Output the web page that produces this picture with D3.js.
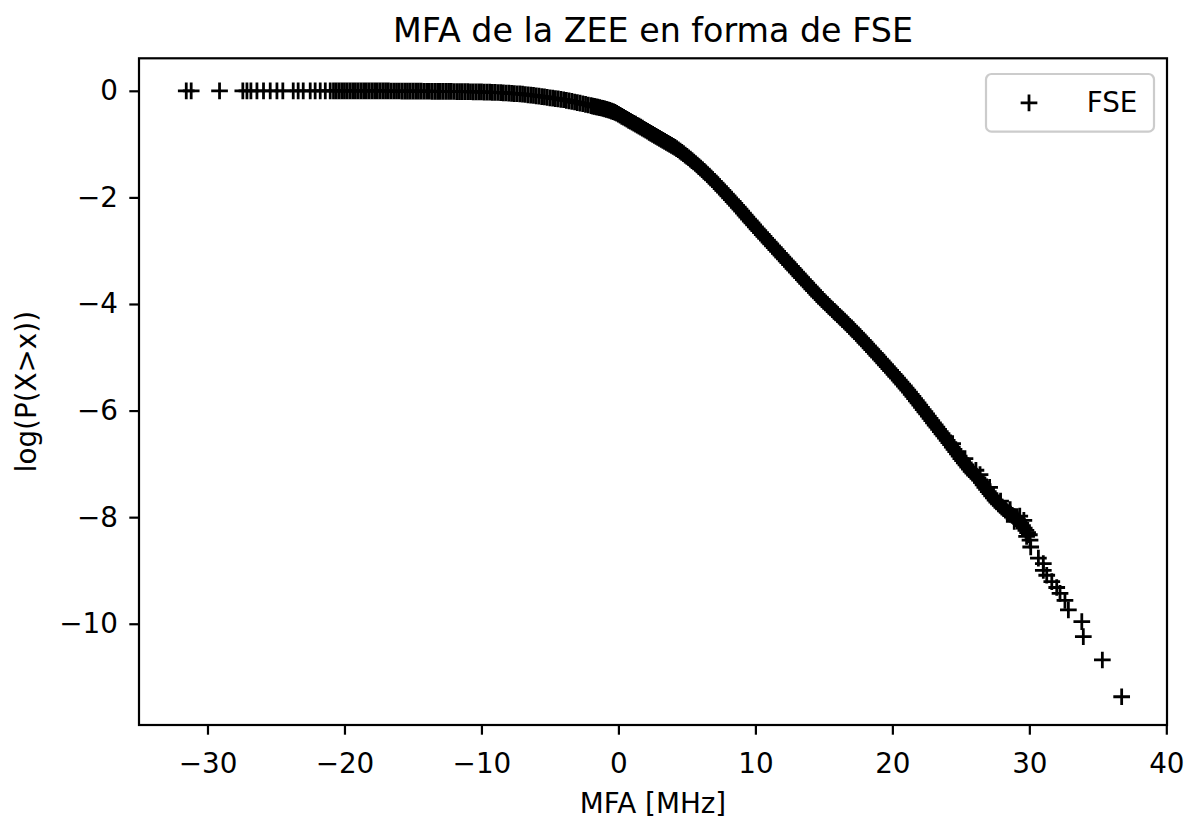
<!DOCTYPE html>
<html>
<head>
<meta charset="utf-8">
<script src="https://cdn.jsdelivr.net/npm/d3@7"></script>
<style>
  body { margin: 0; background: #fff; }
  svg text { font-family: "DejaVu Sans", sans-serif; fill: #000; }
</style>
</head>
<body>
<svg id="chart" width="1198" height="825"></svg>
<script>
// Tick values
const xTicks = [-30, -20, -10, 0, 10, 20, 30, 40];
const yTicks = [0, -2, -4, -6, -8, -10];

// Sparse far-left observations (log P(X>x) ~ 0)
const leftTail = [
  [-31.55, 0], [-31.19, 0], [-29.12, 0], [-27.42, 0], [-27.12, 0], [-26.83, 0],
  [-26.39, 0], [-25.91, 0], [-25.42, 0], [-24.93, 0], [-24.50, 0], [-23.74, 0],
  [-23.38, 0], [-23.01, 0], [-22.50, 0], [-22.14, 0], [-21.77, 0], [-21.40, 0],
  [-21.04, 0]
];

// Plateau of the survival curve (x < -2 MHz)
const plateau = [
  [-20.8, 0.000], [-20.6, 0.000], [-20.4, -0.001], [-20.2, -0.001], [-20.0, -0.001],
  [-19.8, -0.001], [-19.6, -0.001], [-19.4, -0.001], [-19.2, -0.001], [-19.0, -0.001],
  [-18.8, -0.002], [-18.6, -0.002], [-18.4, -0.002], [-18.2, -0.002], [-18.0, -0.002],
  [-17.8, -0.002], [-17.6, -0.003], [-17.4, -0.003], [-17.2, -0.003], [-17.0, -0.003],
  [-16.8, -0.003], [-16.6, -0.004], [-16.4, -0.004], [-16.2, -0.004], [-16.0, -0.004],
  [-15.8, -0.005], [-15.6, -0.005], [-15.4, -0.005], [-15.2, -0.006], [-15.0, -0.006],
  [-14.8, -0.006], [-14.6, -0.007], [-14.4, -0.007], [-14.2, -0.008], [-14.0, -0.008],
  [-13.8, -0.008], [-13.6, -0.009], [-13.4, -0.009], [-13.2, -0.010], [-13.0, -0.010],
  [-12.8, -0.011], [-12.6, -0.011], [-12.4, -0.012], [-12.2, -0.012], [-12.0, -0.013],
  [-11.8, -0.014], [-11.6, -0.015], [-11.4, -0.015], [-11.2, -0.016], [-11.0, -0.017],
  [-10.8, -0.018], [-10.6, -0.019], [-10.4, -0.020], [-10.2, -0.020], [-10.0, -0.021],
  [-9.8, -0.023], [-9.6, -0.024], [-9.4, -0.026], [-9.2, -0.028], [-9.0, -0.030],
  [-8.8, -0.032], [-8.6, -0.035], [-8.4, -0.038], [-8.2, -0.041], [-8.0, -0.044],
  [-7.8, -0.047], [-7.6, -0.051], [-7.4, -0.055], [-7.2, -0.059], [-7.0, -0.064],
  [-6.8, -0.069], [-6.6, -0.075], [-6.4, -0.081], [-6.2, -0.087], [-6.0, -0.094],
  [-5.8, -0.101], [-5.6, -0.108], [-5.4, -0.115], [-5.2, -0.123], [-5.0, -0.131],
  [-4.8, -0.138], [-4.6, -0.146], [-4.4, -0.153], [-4.2, -0.160], [-4.0, -0.168],
  [-3.8, -0.178], [-3.6, -0.188], [-3.4, -0.198], [-3.2, -0.210], [-3.0, -0.221],
  [-2.8, -0.232], [-2.6, -0.243], [-2.4, -0.255], [-2.2, -0.266]
];

// Decaying part of the survival curve (-2 to 30 MHz)
const decay = [
  [-2.000, -0.278], [-1.875, -0.286], [-1.750, -0.293], [-1.625, -0.301], [-1.500, -0.308],
  [-1.375, -0.316], [-1.250, -0.323], [-1.125, -0.331], [-1.000, -0.339], [-0.875, -0.348],
  [-0.750, -0.358], [-0.625, -0.369], [-0.500, -0.380], [-0.375, -0.392], [-0.250, -0.405],
  [-0.125, -0.421], [0.000, -0.440], [0.125, -0.459], [0.250, -0.478], [0.375, -0.496],
  [0.500, -0.515], [0.625, -0.534], [0.750, -0.553], [0.875, -0.571], [1.000, -0.590],
  [1.125, -0.609], [1.250, -0.627], [1.375, -0.646], [1.500, -0.664], [1.625, -0.683],
  [1.750, -0.702], [1.875, -0.721], [2.000, -0.740], [2.125, -0.759], [2.250, -0.779],
  [2.375, -0.798], [2.500, -0.817], [2.625, -0.836], [2.750, -0.855], [2.875, -0.873],
  [3.000, -0.892], [3.125, -0.911], [3.250, -0.929], [3.375, -0.948], [3.500, -0.967],
  [3.625, -0.986], [3.750, -1.005], [3.875, -1.024], [4.000, -1.043], [4.125, -1.063],
  [4.250, -1.084], [4.375, -1.106], [4.500, -1.130], [4.625, -1.155], [4.750, -1.180],
  [4.875, -1.205], [5.000, -1.230], [5.125, -1.256], [5.250, -1.283], [5.375, -1.309],
  [5.500, -1.336], [5.625, -1.364], [5.750, -1.392], [5.875, -1.421], [6.000, -1.450],
  [6.125, -1.480], [6.250, -1.510], [6.375, -1.540], [6.500, -1.570], [6.625, -1.601],
  [6.750, -1.633], [6.875, -1.665], [7.000, -1.698], [7.125, -1.731], [7.250, -1.765],
  [7.375, -1.799], [7.500, -1.834], [7.625, -1.868], [7.750, -1.903], [7.875, -1.937],
  [8.000, -1.972], [8.125, -2.007], [8.250, -2.042], [8.375, -2.077], [8.500, -2.113],
  [8.625, -2.149], [8.750, -2.185], [8.875, -2.221], [9.000, -2.258], [9.125, -2.295],
  [9.250, -2.332], [9.375, -2.369], [9.500, -2.406], [9.625, -2.443], [9.750, -2.480],
  [9.875, -2.517], [10.000, -2.553], [10.125, -2.589], [10.250, -2.625], [10.375, -2.660],
  [10.500, -2.696], [10.625, -2.731], [10.750, -2.767], [10.875, -2.802], [11.000, -2.838],
  [11.125, -2.873], [11.250, -2.909], [11.375, -2.944], [11.500, -2.979], [11.625, -3.014],
  [11.750, -3.050], [11.875, -3.085], [12.000, -3.120], [12.125, -3.155], [12.250, -3.190],
  [12.375, -3.226], [12.500, -3.261], [12.625, -3.296], [12.750, -3.331], [12.875, -3.366],
  [13.000, -3.401], [13.125, -3.436], [13.250, -3.471], [13.375, -3.506], [13.500, -3.541],
  [13.625, -3.576], [13.750, -3.611], [13.875, -3.646], [14.000, -3.681], [14.125, -3.715],
  [14.250, -3.750], [14.375, -3.784], [14.500, -3.818], [14.625, -3.852], [14.750, -3.885],
  [14.875, -3.918], [15.000, -3.950], [15.125, -3.982], [15.250, -4.013], [15.375, -4.044],
  [15.500, -4.075], [15.625, -4.106], [15.750, -4.137], [15.875, -4.168], [16.000, -4.199],
  [16.125, -4.230], [16.250, -4.261], [16.375, -4.292], [16.500, -4.323], [16.625, -4.354],
  [16.750, -4.386], [16.875, -4.418], [17.000, -4.450], [17.125, -4.483], [17.250, -4.516],
  [17.375, -4.549], [17.500, -4.582], [17.625, -4.616], [17.750, -4.650], [17.875, -4.684],
  [18.000, -4.718], [18.125, -4.752], [18.250, -4.787], [18.375, -4.822], [18.500, -4.857],
  [18.625, -4.892], [18.750, -4.927], [18.875, -4.962], [19.000, -4.998], [19.125, -5.033],
  [19.250, -5.069], [19.375, -5.104], [19.500, -5.140], [19.625, -5.176], [19.750, -5.212],
  [19.875, -5.248], [20.000, -5.284], [20.125, -5.320], [20.250, -5.356], [20.375, -5.392],
  [20.500, -5.428], [20.625, -5.465], [20.750, -5.502], [20.875, -5.539], [21.000, -5.577],
  [21.125, -5.616], [21.250, -5.655], [21.375, -5.695], [21.500, -5.735], [21.625, -5.775],
  [21.750, -5.816], [21.875, -5.857], [22.000, -5.898], [22.125, -5.939], [22.250, -5.981],
  [22.375, -6.022], [22.500, -6.064], [22.625, -6.105], [22.750, -6.147], [22.875, -6.188],
  [23.000, -6.230], [23.125, -6.271], [23.250, -6.312], [23.375, -6.353], [23.500, -6.394],
  [23.625, -6.435], [23.750, -6.476], [23.875, -6.518], [24.000, -6.560], [24.125, -6.600],
  [24.250, -6.640], [24.375, -6.685], [24.500, -6.730], [24.625, -6.770], [24.750, -6.810],
  [24.875, -6.855], [25.000, -6.900], [25.125, -6.940], [25.250, -6.980], [25.375, -7.020],
  [25.500, -7.060], [25.625, -7.100], [25.750, -7.140], [25.875, -7.175], [26.000, -7.210],
  [26.125, -7.240], [26.250, -7.262], [26.375, -7.300], [26.500, -7.345], [26.625, -7.392],
  [26.750, -7.440], [26.875, -7.480], [27.000, -7.520], [27.125, -7.560], [27.250, -7.600],
  [27.375, -7.640], [27.500, -7.680], [27.625, -7.716], [27.750, -7.752], [27.875, -7.781],
  [28.000, -7.810], [28.125, -7.840], [28.250, -7.870], [28.375, -7.898], [28.500, -7.925],
  [28.625, -7.945], [28.750, -7.965], [28.875, -7.988], [29.000, -8.010], [29.125, -8.040],
  [29.250, -8.070], [29.375, -8.115], [29.500, -8.160], [29.625, -8.205], [29.750, -8.250],
  [29.875, -8.290], [30.000, -8.330]
];

// Scattered points off the main trace in the noisy 24-30 MHz stretch
const scatter = [
  [24.40, -6.62], [25.30, -6.90], [26.10, -7.12], [26.40, -7.20], [27.10, -7.44],
  [27.90, -7.70], [28.60, -7.86], [28.90, -8.08], [29.30, -7.98], [29.60, -8.06],
  [29.80, -8.36]
];

// Sparse upper-tail observations
const rightTail = [
  [30.05, -8.43], [30.10, -8.56], [30.66, -8.77], [31.02, -8.87], [31.02, -9.00],
  [31.27, -9.09], [31.64, -9.21], [32.00, -9.32], [32.24, -9.43], [32.60, -9.56],
  [32.85, -9.74], [33.83, -9.96], [33.94, -10.24], [35.33, -10.68], [36.74, -11.37]
];

const seriesName = "FSE";
const title = "MFA de la ZEE en forma de FSE";
const xLabel = "MFA [MHz]";
const yLabel = "log(P(X>x))";

const points = leftTail.concat(plateau, decay, scatter, rightTail);

const FS = 27.8;          // 10pt text
const TITLE_FS = 33.3;    // 12pt title
const plot = { left: 139, right: 1167, top: 58.3, bottom: 725 };

const x = d3.scaleLinear().domain([-35, 40.05]).range([plot.left, plot.right]);
const y = d3.scaleLinear().domain([-11.9, 0.61]).range([plot.bottom, plot.top]);

const svg = d3.select("#chart");
svg.append("rect").attr("width", 1198).attr("height", 825).attr("fill", "#fff");

// '+' marker
const plus = "M-8.35,0H8.35M0,-8.35V8.35";

svg.append("g")
  .selectAll("path")
  .data(points)
  .join("path")
  .attr("d", plus)
  .attr("transform", d => `translate(${x(d[0])},${y(d[1])})`)
  .attr("fill", "none")
  .attr("stroke", "#000")
  .attr("stroke-width", 2.78);

// Axes
const styleAxis = g => {
  g.select(".domain").remove();
  g.attr("font-family", "DejaVu Sans").attr("font-size", FS);
  g.selectAll(".tick line").attr("stroke", "#000").attr("stroke-width", 2.2);
  g.selectAll(".tick text").attr("fill", "#000");
};

svg.append("g")
  .attr("transform", `translate(0,${plot.bottom})`)
  .call(d3.axisBottom(x).tickValues(xTicks).tickSize(9.7).tickPadding(18.6).tickSizeOuter(0))
  .call(styleAxis);

svg.append("g")
  .attr("transform", `translate(${plot.left},0)`)
  .call(d3.axisLeft(y).tickValues(yTicks).tickSize(9.7).tickPadding(11.3).tickSizeOuter(0))
  .call(styleAxis);

// Frame
svg.append("rect")
  .attr("x", plot.left).attr("y", plot.top)
  .attr("width", plot.right - plot.left).attr("height", plot.bottom - plot.top)
  .attr("fill", "none").attr("stroke", "#000").attr("stroke-width", 2.2);

// Title and axis labels
const cx = (plot.left + plot.right) / 2;
svg.append("text").attr("x", cx).attr("y", 42).attr("text-anchor", "middle")
  .attr("font-size", TITLE_FS).text(title);
svg.append("text").attr("x", cx).attr("y", 813).attr("text-anchor", "middle")
  .attr("font-size", FS).text(xLabel);
svg.append("text")
  .attr("transform", `translate(36,${(plot.top + plot.bottom) / 2}) rotate(-90)`)
  .attr("text-anchor", "middle").attr("font-size", FS).text(yLabel);

// Legend
const lg = svg.append("g").attr("transform", `translate(${plot.right - 181},${plot.top + 15.7})`);
lg.append("rect").attr("width", 168).attr("height", 57.7).attr("rx", 5.5)
  .attr("fill", "#fff").attr("fill-opacity", 0.8)
  .attr("stroke", "#cccccc").attr("stroke-width", 2.2);
lg.append("path").attr("d", plus).attr("transform", "translate(43,28.9)")
  .attr("fill", "none").attr("stroke", "#000").attr("stroke-width", 2.78);
lg.append("text").attr("x", 100.7).attr("y", 37.8).attr("font-size", FS).text(seriesName);
</script>
</body>
</html>
